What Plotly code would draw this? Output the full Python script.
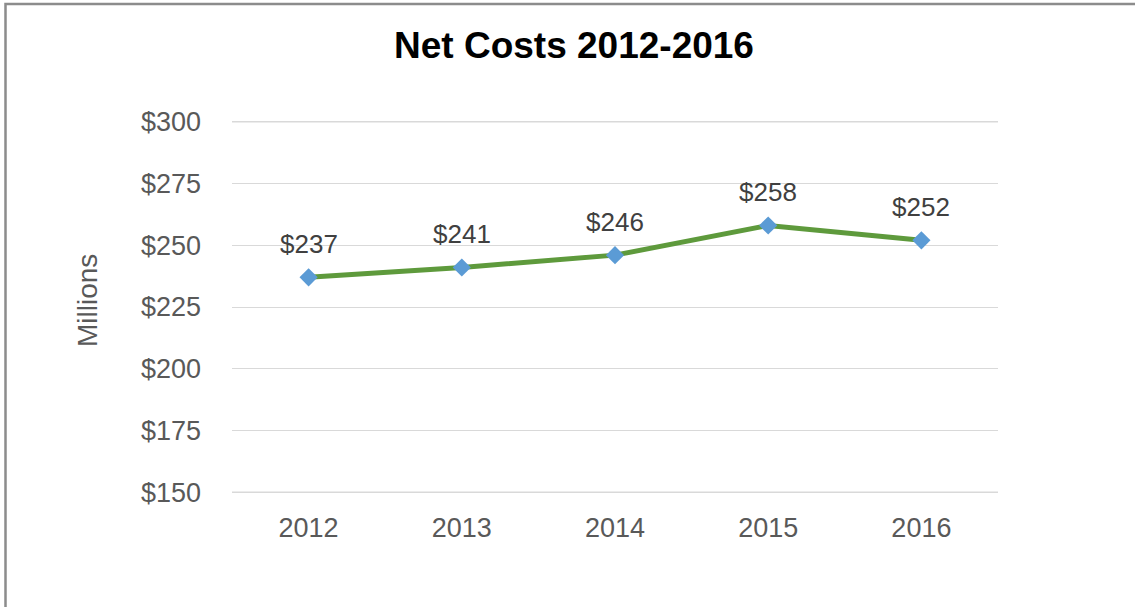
import plotly.graph_objects as go

years = ["2012", "2013", "2014", "2015", "2016"]
net_costs = [237, 241, 246, 258, 252]
y_ticks = [150, 175, 200, 225, 250, 275, 300]
y_tick_labels = ["$150", "$175", "$200", "$225", "$250", "$275", "$300"]

W, H = 1135, 607
L, R, T, B = 232, 137, 121, 114
pw, ph = W - L - R, H - T - B
FONT = "Liberation Sans, Arial"

fig = go.Figure()
fig.add_trace(go.Scatter(
    x=years, y=net_costs, mode="lines+markers",
    line=dict(color="#5E9A3C", width=5),
    marker=dict(symbol="diamond", size=14, color="#5B9BD5"),
    hoverinfo="skip", showlegend=False,
))

for i, v in enumerate(net_costs):
    fig.add_annotation(x=i, y=v, text=f"${v}", showarrow=False, yshift=33,
                       font=dict(size=26, color="#404040", family=FONT))

def px_to_paper_x(px):
    return (px - L) / pw

def px_to_paper_y(py):
    return (H - B - py) / ph

fig.add_annotation(x=px_to_paper_x(87), y=px_to_paper_y(301), xref="paper", yref="paper",
                   xanchor="center", yanchor="middle",
                   text="Millions", textangle=-90, showarrow=False,
                   font=dict(size=28, color="#595959", family=FONT))

# edge gridlines (plotly drops gridlines at the plot-area edges)
for yv in (y_ticks[0], y_ticks[-1]):
    fig.add_shape(type="line", xref="paper", yref="y", x0=0, x1=1, y0=yv, y1=yv,
                  line=dict(color="#D9D9D9", width=1.3), layer="below")

fig.add_shape(type="path", xref="paper", yref="paper",
              path=f"M {px_to_paper_x(5.5)} {px_to_paper_y(620)} L {px_to_paper_x(5.5)} {px_to_paper_y(4)} L {px_to_paper_x(1150)} {px_to_paper_y(4)}",
              line=dict(color="#8C8C8C", width=2.5))

fig.update_layout(
    width=W, height=H,
    margin=dict(l=L, r=R, t=T, b=B),
    paper_bgcolor="white", plot_bgcolor="white",
    font=dict(family=FONT, color="#595959"),
    title=dict(text="<b>Net Costs 2012-2016</b>", x=574 / W, xanchor="center",
               y=1 - 45 / H, yanchor="middle",
               font=dict(size=37, color="black", family=FONT)),
    xaxis=dict(type="category", range=[-0.5, 4.5], showgrid=False, zeroline=False,
               showline=False, ticks="", ticklabelstandoff=16,
               tickfont=dict(size=27, color="#595959")),
    yaxis=dict(range=[149.7, 300.3], tickvals=y_ticks, ticktext=y_tick_labels,
               showgrid=True, gridcolor="#D9D9D9", gridwidth=1.3, zeroline=False,
               showline=False, ticks="", ticklabelstandoff=30,
               tickfont=dict(size=27, color="#595959")),
)

fig.write_html("out.html")
